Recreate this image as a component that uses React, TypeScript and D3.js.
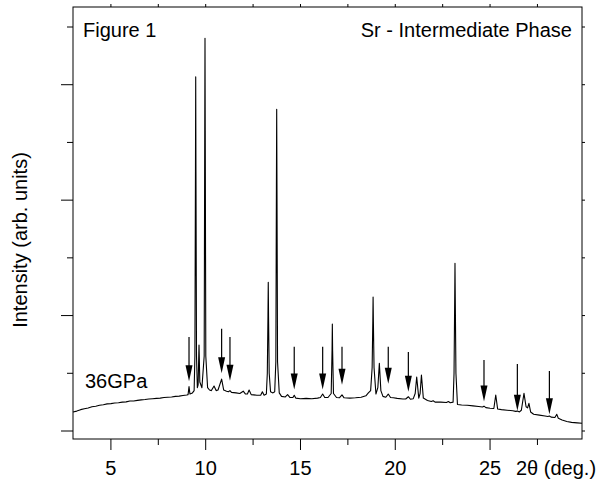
import React, { useEffect, useRef } from 'react';
import * as d3 from 'd3';

// diffraction profile: [2theta (deg), intensity (arb.)]
const profile: [number, number][] = [
  [3.0, 0.33], [3.2, 0.345], [3.4, 0.37], [3.6, 0.385], [3.8, 0.40], [4.0, 0.42], [4.2, 0.43],
  [4.4, 0.445], [4.6, 0.455], [4.8, 0.47], [5.0, 0.475], [5.2, 0.485], [5.4, 0.49], [5.6, 0.50],
  [5.8, 0.505], [6.0, 0.52], [6.2, 0.52], [6.4, 0.53], [6.6, 0.54], [6.8, 0.545], [7.0, 0.555],
  [7.2, 0.56], [7.4, 0.565], [7.6, 0.57], [7.8, 0.58], [8.0, 0.585], [8.2, 0.59], [8.4, 0.60],
  [8.6, 0.605], [8.8, 0.615], [9.0, 0.625],
  [9.07, 0.63], [9.12, 0.77], [9.17, 0.64], [9.3, 0.66],
  [9.39, 0.70], [9.43, 1.3], [9.46, 4.5], [9.473, 6.135], [9.486, 4.5], [9.515, 1.3], [9.56, 0.75],
  [9.60, 0.80], [9.647, 1.49], [9.69, 0.85],
  [9.80, 0.75], [9.92, 1.3], [9.95, 5.2], [9.963, 6.806], [9.976, 5.2], [10.005, 1.3], [10.10, 0.75],
  [10.2, 0.71], [10.3, 0.70], [10.44, 0.78], [10.55, 0.70], [10.65, 0.71], [10.84, 0.90],
  [10.95, 0.71], [11.1, 0.69], [11.2, 0.68], [11.28, 0.70], [11.36, 0.67], [11.6, 0.66],
  [11.8, 0.65], [11.98, 0.69], [12.1, 0.64], [12.2, 0.64], [12.29, 0.71], [12.4, 0.63],
  [12.7, 0.62], [12.9, 0.62], [12.99, 0.68], [13.08, 0.62],
  [13.20, 0.64], [13.25, 1.0], [13.285, 2.0], [13.30, 2.577], [13.315, 2.0], [13.35, 1.0], [13.42, 0.68],
  [13.55, 0.66], [13.64, 0.68], [13.70, 1.2], [13.73, 4.2], [13.745, 5.575], [13.76, 4.2],
  [13.79, 1.2], [13.88, 0.66],
  [14.0, 0.60], [14.2, 0.59], [14.32, 0.63], [14.45, 0.58], [14.6, 0.58], [14.67, 0.62],
  [14.75, 0.57], [15.0, 0.56], [15.3, 0.565], [15.6, 0.56], [15.9, 0.57], [16.05, 0.58],
  [16.17, 0.64], [16.28, 0.58], [16.45, 0.58], [16.62, 0.65], [16.665, 1.4], [16.68, 1.854],
  [16.695, 1.4], [16.74, 0.65],
  [16.9, 0.58], [17.05, 0.575], [17.19, 0.625], [17.3, 0.575], [17.6, 0.57], [17.9, 0.575],
  [18.2, 0.585], [18.45, 0.61], [18.58, 0.66], [18.70, 0.70], [18.78, 1.1], [18.815, 1.9],
  [18.83, 2.322], [18.845, 1.9], [18.88, 1.1], [18.98, 0.64], [19.08, 0.75], [19.16, 1.173],
  [19.24, 0.70], [19.35, 0.60],
  [19.5, 0.585], [19.63, 0.64], [19.75, 0.58], [19.9, 0.575], [20.1, 0.565], [20.4, 0.555],
  [20.55, 0.555], [20.69, 0.594], [20.8, 0.55], [20.95, 0.56], [21.05, 0.65], [21.13, 0.936],
  [21.24, 0.57], [21.31, 0.65], [21.38, 0.971], [21.48, 0.57], [21.7, 0.53], [21.9, 0.51],
  [22.0, 0.525], [22.1, 0.50], [22.4, 0.50], [22.7, 0.495], [22.8, 0.51], [22.9, 0.49],
  [23.05, 0.50], [23.1, 1.0], [23.135, 2.3], [23.15, 2.906], [23.165, 2.3], [23.20, 1.0],
  [23.28, 0.46], [23.5, 0.45],
  [23.8, 0.445], [24.1, 0.435], [24.4, 0.425], [24.6, 0.415], [24.68, 0.43], [24.78, 0.405],
  [25.0, 0.395], [25.2, 0.39], [25.30, 0.624], [25.40, 0.38], [25.6, 0.37], [25.9, 0.36],
  [26.2, 0.35], [26.35, 0.34], [26.44, 0.345], [26.55, 0.33], [26.65, 0.36], [26.79, 0.653],
  [26.9, 0.42], [26.98, 0.40], [27.05, 0.48], [27.14, 0.33], [27.3, 0.29], [27.6, 0.275],
  [27.9, 0.26], [28.05, 0.25], [28.13, 0.26], [28.22, 0.24], [28.42, 0.235], [28.52, 0.289],
  [28.6, 0.22], [28.8, 0.19], [29.05, 0.165], [29.3, 0.15], [29.6, 0.14], [29.85, 0.133],
];

// marked reflections (arrows)
const arrowX = [9.12, 10.84, 11.28, 14.67, 16.17, 17.19, 19.63, 20.69, 24.68, 26.44, 28.13];
const arrowTop = [1.63, 1.77, 1.63, 1.46, 1.46, 1.46, 1.46, 1.37, 1.23, 1.16, 1.04];
const arrowTip = [0.86, 1.0, 0.87, 0.72, 0.72, 0.80, 0.82, 0.68, 0.51, 0.35, 0.29];

const xMajorTicks = [5, 10, 15, 20, 25];
const xMinorTicks = [7.5, 12.5, 17.5, 22.5, 27.5];
const yMajorTicks = [0, 2, 4, 6];
const yMinorTicks = [1, 3, 5, 7];

const FONT = '"Liberation Sans", Arial, sans-serif';

const App = () => {
  const svgRef = useRef<SVGSVGElement | null>(null);

  useEffect(() => {
    if (!svgRef.current) return;
    const svg = d3.select(svgRef.current);
    svg.selectAll('*').remove();

    const left = 73, right = 582, top = 7, bottom = 439;

    const x = d3.scaleLinear().domain([3, 29.85]).range([left, right]);
    const y = d3.scaleLinear().domain([0, 7]).range([431, 27]);

    // frame
    svg.append('rect')
      .attr('x', left).attr('y', top)
      .attr('width', right - left).attr('height', bottom - top)
      .attr('fill', 'none').attr('stroke', '#000').attr('stroke-width', 1);

    const ticks = svg.append('g').attr('stroke', '#000').attr('stroke-width', 1);

    // bottom ticks (outward)
    xMajorTicks.forEach(t => {
      ticks.append('line').attr('x1', x(t)).attr('x2', x(t)).attr('y1', bottom).attr('y2', bottom + 11);
    });
    xMinorTicks.forEach(t => {
      ticks.append('line').attr('x1', x(t)).attr('x2', x(t)).attr('y1', bottom).attr('y2', bottom + 6);
    });
    // top ticks (short)
    [...xMajorTicks, ...xMinorTicks].forEach(t => {
      ticks.append('line').attr('x1', x(t)).attr('x2', x(t)).attr('y1', top).attr('y2', top - 3);
    });
    // left ticks
    yMajorTicks.forEach(t => {
      ticks.append('line').attr('x1', left - 12).attr('x2', left).attr('y1', y(t)).attr('y2', y(t));
    });
    yMinorTicks.forEach(t => {
      ticks.append('line').attr('x1', left - 6).attr('x2', left).attr('y1', y(t)).attr('y2', y(t));
    });
    // right ticks (short)
    [...yMajorTicks, ...yMinorTicks].forEach(t => {
      ticks.append('line').attr('x1', right).attr('x2', right + 3).attr('y1', y(t)).attr('y2', y(t));
    });

    // tick labels
    svg.append('g')
      .selectAll('text')
      .data(xMajorTicks)
      .join('text')
      .attr('x', d => x(d))
      .attr('y', 475)
      .attr('text-anchor', 'middle')
      .style('font-family', FONT)
      .style('font-size', '20px')
      .text(d => d);

    svg.append('text')
      .attr('x', 516).attr('y', 475)
      .style('font-family', FONT).style('font-size', '20px')
      .text('2θ (deg.)');

    svg.append('text')
      .attr('transform', 'translate(27, 240) rotate(-90)')
      .attr('text-anchor', 'middle')
      .style('font-family', FONT).style('font-size', '20px')
      .text('Intensity (arb. units)');

    // profile
    const line = d3.line<[number, number]>()
      .x(d => x(d[0]))
      .y(d => y(d[1]));

    svg.append('path')
      .datum(profile)
      .attr('d', line)
      .attr('fill', 'none')
      .attr('stroke', '#000')
      .attr('stroke-width', 1.1)
      .attr('stroke-linejoin', 'round');

    // arrows
    const arrows = svg.append('g');
    const headLen = 16, headW = 3.5;
    arrowX.forEach((ax, i) => {
      const px = x(ax);
      const yTop = y(arrowTop[i]);
      const yTip = y(arrowTip[i]);
      arrows.append('line')
        .attr('x1', px).attr('x2', px)
        .attr('y1', yTop).attr('y2', yTip - headLen + 1)
        .attr('stroke', '#000').attr('stroke-width', 1.2);
      arrows.append('path')
        .attr('d', `M${px - headW},${yTip - headLen} L${px + headW},${yTip - headLen} L${px},${yTip} Z`)
        .attr('fill', '#000');
    });

    // annotations
    svg.append('text')
      .attr('x', 83).attr('y', 37)
      .style('font-family', FONT).style('font-size', '20px')
      .text('Figure 1');

    svg.append('text')
      .attr('x', 572).attr('y', 37)
      .attr('text-anchor', 'end')
      .style('font-family', FONT).style('font-size', '20px')
      .text('Sr - Intermediate Phase');

    svg.append('text')
      .attr('x', 85).attr('y', 388)
      .style('font-family', FONT).style('font-size', '20px')
      .text('36GPa');
  }, []);

  return (
    <div style={{ position: 'absolute', left: 0, top: 0, width: 599, height: 484, background: 'white' }}>
      <svg ref={svgRef} width={599} height={484} style={{ display: 'block' }} />
    </div>
  );
};

export default App;
